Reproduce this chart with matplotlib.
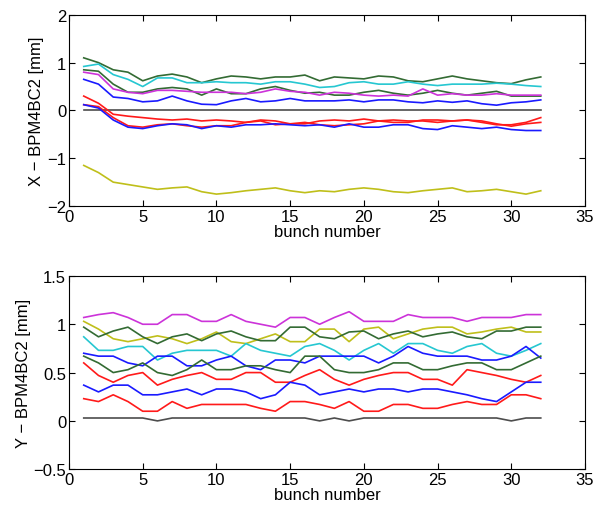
import matplotlib
matplotlib.use("Agg")
from matplotlib import pyplot as plt
import numpy as np

plt.rcParams['font.family'] = ['Liberation Sans', 'DejaVu Sans']
plt.rcParams['font.size'] = 12

bunch = np.arange(1, 33)

# horizontal orbit at BPM4BC2, one trace per shot
x_green1 = [1.1, 1.0, 0.85, 0.8, 0.62, 0.72, 0.76, 0.7, 0.58, 0.66, 0.72, 0.7, 0.66, 0.7, 0.7, 0.74,
            0.62, 0.7, 0.68, 0.66, 0.72, 0.7, 0.62, 0.6, 0.66, 0.72, 0.66, 0.62, 0.58, 0.56, 0.64, 0.7]
x_cyan = [0.92, 0.97, 0.75, 0.65, 0.5, 0.68, 0.68, 0.58, 0.58, 0.6, 0.58, 0.58, 0.55, 0.6, 0.6, 0.55,
          0.48, 0.5, 0.58, 0.6, 0.55, 0.55, 0.6, 0.55, 0.52, 0.55, 0.55, 0.55, 0.57, 0.55, 0.52, 0.5]
x_green2 = [0.85, 0.82, 0.55, 0.38, 0.38, 0.45, 0.48, 0.45, 0.32, 0.45, 0.35, 0.35, 0.45, 0.5, 0.42, 0.36,
            0.38, 0.32, 0.32, 0.38, 0.42, 0.36, 0.32, 0.36, 0.42, 0.36, 0.32, 0.36, 0.4, 0.3, 0.3, 0.3]
x_magenta = [0.8, 0.75, 0.45, 0.38, 0.35, 0.42, 0.42, 0.4, 0.38, 0.38, 0.38, 0.35, 0.38, 0.45, 0.4, 0.38,
             0.32, 0.38, 0.36, 0.32, 0.3, 0.32, 0.3, 0.45, 0.32, 0.35, 0.32, 0.32, 0.35, 0.32, 0.32, 0.32]
x_blue1 = [0.65, 0.55, 0.28, 0.25, 0.18, 0.2, 0.3, 0.2, 0.13, 0.12, 0.2, 0.25, 0.18, 0.2, 0.25, 0.2,
           0.2, 0.2, 0.22, 0.18, 0.22, 0.22, 0.18, 0.16, 0.2, 0.17, 0.2, 0.14, 0.11, 0.16, 0.18, 0.22]
x_black = [0.0] * 32
x_red1 = [0.3, 0.15, -0.08, -0.12, -0.15, -0.18, -0.2, -0.18, -0.22, -0.2, -0.22, -0.25, -0.2, -0.22, -0.28, -0.28,
          -0.22, -0.2, -0.22, -0.18, -0.22, -0.25, -0.25, -0.2, -0.2, -0.22, -0.2, -0.25, -0.3, -0.3, -0.25, -0.15]
x_red2 = [0.12, 0.08, -0.15, -0.32, -0.35, -0.3, -0.28, -0.32, -0.35, -0.32, -0.32, -0.25, -0.22, -0.3, -0.28, -0.25,
          -0.3, -0.32, -0.3, -0.28, -0.22, -0.2, -0.22, -0.22, -0.25, -0.22, -0.2, -0.22, -0.28, -0.33, -0.28, -0.25]
x_blue2 = [0.12, 0.05, -0.2, -0.35, -0.38, -0.32, -0.28, -0.3, -0.38, -0.32, -0.35, -0.3, -0.3, -0.28, -0.3, -0.32,
           -0.3, -0.35, -0.28, -0.35, -0.35, -0.3, -0.3, -0.38, -0.4, -0.32, -0.35, -0.38, -0.35, -0.4, -0.42, -0.42]
x_yellow = [-1.15, -1.3, -1.5, -1.55, -1.6, -1.65, -1.62, -1.6, -1.7, -1.75, -1.72, -1.68, -1.65, -1.62, -1.68, -1.72,
            -1.68, -1.7, -1.65, -1.62, -1.65, -1.7, -1.72, -1.68, -1.65, -1.62, -1.7, -1.68, -1.65, -1.7, -1.75, -1.68]

# vertical orbit at BPM4BC2
y_magenta = [1.07, 1.1, 1.12, 1.07, 1.0, 1.0, 1.1, 1.1, 1.03, 1.03, 1.1, 1.03, 1.0, 0.97, 1.07, 1.07,
             1.0, 1.07, 1.13, 1.03, 1.03, 1.03, 1.1, 1.07, 1.07, 1.07, 1.03, 1.07, 1.07, 1.07, 1.1, 1.1]
y_yellow = [1.03, 0.95, 0.85, 0.82, 0.85, 0.88, 0.85, 0.8, 0.85, 0.92, 0.82, 0.8, 0.85, 0.9, 0.82, 0.82,
            0.95, 0.95, 0.82, 0.95, 0.97, 0.85, 0.9, 0.95, 0.97, 0.97, 0.9, 0.92, 0.95, 0.97, 0.92, 0.92]
y_green1 = [0.97, 0.87, 0.93, 0.97, 0.87, 0.8, 0.87, 0.9, 0.83, 0.9, 0.93, 0.87, 0.83, 0.83, 0.97, 0.97,
            0.87, 0.85, 0.92, 0.93, 0.85, 0.9, 0.93, 0.87, 0.9, 0.92, 0.87, 0.85, 0.93, 0.93, 0.97, 0.97]
y_cyan = [0.87, 0.73, 0.73, 0.77, 0.77, 0.63, 0.7, 0.73, 0.73, 0.73, 0.67, 0.8, 0.73, 0.7, 0.67, 0.77,
          0.8, 0.73, 0.63, 0.73, 0.8, 0.7, 0.8, 0.8, 0.73, 0.7, 0.77, 0.8, 0.7, 0.67, 0.73, 0.8]
y_blue1 = [0.7, 0.67, 0.67, 0.6, 0.57, 0.67, 0.67, 0.57, 0.57, 0.63, 0.67, 0.57, 0.53, 0.63, 0.63, 0.6,
           0.67, 0.67, 0.67, 0.67, 0.6, 0.67, 0.77, 0.7, 0.67, 0.67, 0.67, 0.63, 0.63, 0.67, 0.77, 0.65]
y_green2 = [0.67, 0.6, 0.5, 0.53, 0.6, 0.5, 0.47, 0.53, 0.63, 0.53, 0.53, 0.57, 0.57, 0.53, 0.5, 0.67,
            0.67, 0.53, 0.5, 0.5, 0.53, 0.6, 0.6, 0.53, 0.53, 0.57, 0.6, 0.6, 0.53, 0.53, 0.6, 0.67]
y_red1 = [0.6, 0.47, 0.4, 0.47, 0.5, 0.37, 0.43, 0.47, 0.5, 0.43, 0.43, 0.5, 0.5, 0.4, 0.4, 0.47,
          0.53, 0.43, 0.37, 0.43, 0.47, 0.5, 0.5, 0.43, 0.43, 0.37, 0.53, 0.5, 0.47, 0.43, 0.4, 0.47]
y_blue2 = [0.37, 0.3, 0.37, 0.37, 0.27, 0.27, 0.3, 0.33, 0.27, 0.33, 0.33, 0.3, 0.23, 0.27, 0.4, 0.37,
           0.27, 0.3, 0.33, 0.3, 0.33, 0.33, 0.3, 0.33, 0.33, 0.3, 0.27, 0.23, 0.2, 0.3, 0.4, 0.4]
y_red2 = [0.23, 0.2, 0.27, 0.2, 0.1, 0.1, 0.2, 0.13, 0.17, 0.17, 0.17, 0.17, 0.13, 0.1, 0.2, 0.2,
          0.17, 0.13, 0.2, 0.1, 0.1, 0.17, 0.17, 0.13, 0.13, 0.17, 0.2, 0.17, 0.17, 0.27, 0.27, 0.23]
y_black = [0.03, 0.03, 0.03, 0.03, 0.03, 0.0, 0.03, 0.03, 0.03, 0.03, 0.03, 0.03, 0.03, 0.03, 0.03, 0.03,
           0.0, 0.03, 0.0, 0.03, 0.03, 0.03, 0.03, 0.03, 0.03, 0.03, 0.03, 0.03, 0.03, 0.0, 0.03, 0.03]

blue = (0.1, 0.1, 1.0)
green = (0.2, 0.42, 0.2)
red = (1.0, 0.1, 0.1)
cyan = (0.15, 0.78, 0.82)
magenta = (0.8, 0.2, 0.85)
yellow = (0.75, 0.75, 0.1)
black = (0.3, 0.3, 0.3)

x_traces = [(x_green1, green), (x_cyan, cyan), (x_green2, green), (x_magenta, magenta),
            (x_blue1, blue), (x_black, black), (x_red1, red), (x_red2, red),
            (x_blue2, blue), (x_yellow, yellow)]
y_traces = [(y_magenta, magenta), (y_yellow, yellow), (y_green1, green), (y_cyan, cyan),
            (y_blue1, blue), (y_green2, green), (y_red1, red), (y_blue2, blue),
            (y_red2, red), (y_black, black)]

fig = plt.figure(figsize=(6, 5.1), dpi=100)
ax1 = fig.add_axes([0.115, 0.594, 0.86, 0.375])
ax2 = fig.add_axes([0.115, 0.078, 0.86, 0.379])

for vals, c in x_traces:
    ax1.plot(bunch, vals, color=c, lw=1.2)
for vals, c in y_traces:
    ax2.plot(bunch, vals, color=c, lw=1.2)

ax1.set_ylim(-2, 2)
ax1.set_yticks([-2, -1, 0, 1, 2])
ax1.set_ylabel("X \u2212 BPM4BC2 [mm]", labelpad=2)
ax2.set_ylim(-0.5, 1.5)
ax2.set_yticks([-0.5, 0, 0.5, 1, 1.5])
ax2.set_yticklabels(["\u22120.5", "0", "0.5", "1", "1.5"])
ax2.set_ylabel("Y \u2212 BPM4BC2 [mm]", labelpad=2)

for ax in (ax1, ax2):
    ax.set_xlim(0, 35)
    ax.set_xticks(range(0, 36, 5))
    ax.set_xlabel("bunch number", labelpad=0)
    ax.tick_params(direction="in", top=True, right=True, length=4, pad=2)

fig.savefig("out.png", dpi=100)
